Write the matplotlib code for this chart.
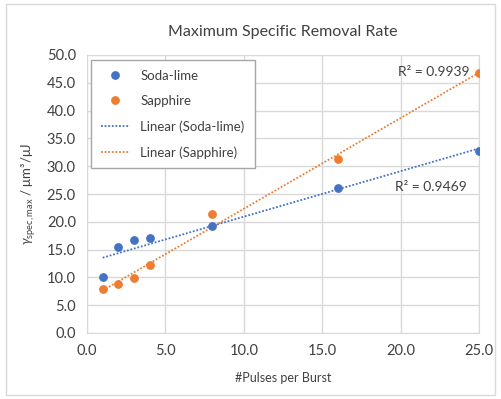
import numpy as np
import matplotlib.pyplot as plt
from matplotlib.patches import Rectangle

# -----------------------------
# Data
# -----------------------------
pulses = [1, 2, 3, 4, 8, 16, 25]
soda_lime = [10.0, 15.5, 16.8, 17.1, 19.2, 26.0, 32.8]
sapphire = [7.9, 8.8, 9.9, 12.3, 21.4, 31.3, 46.8]
r2_soda = "R² = 0.9469"
r2_sapph = "R² = 0.9939"

BLUE = "#4472c4"
ORANGE = "#ed7d31"
GRID = "#d9d9d9"
TEXT = "#404040"

plt.rcParams["font.family"] = ["Lato", "DejaVu Sans"]
plt.rcParams["mathtext.fontset"] = "custom"
plt.rcParams["mathtext.rm"] = "Lato"
plt.rcParams["mathtext.it"] = "Lato:italic"

fig = plt.figure(figsize=(5.01, 3.99), dpi=100)
ax = fig.add_axes([87 / 501, 1 - 333 / 399, (479 - 87) / 501, (333 - 55) / 399])

# outer chart border
fig.patches.append(Rectangle((0.012, 0.01), 0.976, 0.98, transform=fig.transFigure,
                             fill=False, edgecolor=GRID, linewidth=1))

# trend lines
xfit = np.array([1, 25])
for y, c, lab in [(soda_lime, BLUE, "Linear (Soda-lime)"), (sapphire, ORANGE, "Linear (Sapphire)")]:
    k, b = np.polyfit(pulses, y, 1)
    ax.plot(xfit, k * xfit + b, linestyle=(0, (1, 1)), color=c, linewidth=1.3, label=lab, zorder=2)

ax.plot(pulses, soda_lime, "o", color=BLUE, markersize=5.3, label="Soda-lime", zorder=3)
ax.plot(pulses, sapphire, "o", color=ORANGE, markersize=5.3, label="Sapphire", zorder=3)

ax.set_xlim(0, 25)
ax.set_ylim(0, 50)
ax.set_xticks(np.arange(0, 26, 5))
ax.set_yticks(np.arange(0, 51, 5))
ax.set_xticklabels([f"{v:.1f}" for v in np.arange(0, 26, 5)])
ax.set_yticklabels([f"{v:.1f}" for v in np.arange(0, 51, 5)])
ax.tick_params(length=0, labelsize=10.5, colors=TEXT, pad=8)
ax.grid(True, color=GRID, linewidth=1)
ax.set_axisbelow(True)
for s in ax.spines.values():
    s.set_color(GRID)

ax.set_title("Maximum Specific Removal Rate", fontsize=11.5, color=TEXT, pad=14)
ax.set_xlabel("#Pulses per Burst", fontsize=9, color=TEXT, labelpad=10)
ax.set_ylabel(r"$\gamma_{\mathrm{spec,max}}$ / μm³/μJ", fontsize=9.5, color=TEXT, labelpad=6)

ax.text(24.4, 46.9, r2_sapph, ha="right", va="center", fontsize=10, color=TEXT)
ax.text(24.2, 26.3, r2_soda, ha="right", va="center", fontsize=10, color=TEXT)

handles, labels = ax.get_legend_handles_labels()
order = [2, 3, 0, 1]
leg = ax.legend([handles[i] for i in order], [labels[i] for i in order],
                loc="upper left", bbox_to_anchor=(4 / 392, 1 - 5 / 278), borderaxespad=0,
                fontsize=9.5, frameon=True, fancybox=False, edgecolor="#a6a6a6",
                framealpha=1, labelspacing=1.0, handlelength=2.2, borderpad=0.75)
for t in leg.get_texts():
    t.set_color(TEXT)

fig.savefig("out.png", dpi=100)
